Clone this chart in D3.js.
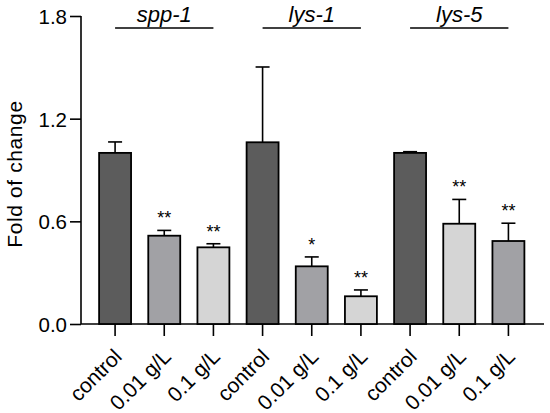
<!DOCTYPE html>
<html><head><meta charset="utf-8">
<script src="https://cdn.jsdelivr.net/npm/d3@7"></script>
<style>body{margin:0;background:#fff}svg{display:block}</style>
</head><body><svg id="c" width="550" height="413"></svg>
<script>
const genes = ["spp-1","lys-1","lys-5"];
const treatments = ["control","0.01 g/L","0.1 g/L"];
const means =  [1.000,0.516,0.448, 1.062,0.337,0.162, 1.000,0.586,0.485];
const errors = [0.064,0.031,0.021, 0.440,0.055,0.037, 0.007,0.142,0.104];
const sig = ["","**","**","","*","**","","**","**"];
const shade = ["dark","mid","light","dark","mid","light","dark","light","mid"];
const yTicks = [0,0.6,1.2,1.8];

const colors = {dark:"#5c5c5c", mid:"#a1a1a5", light:"#d5d5d5"};
const font = "'Liberation Sans', Arial, sans-serif";
const svg = d3.select("#c");
const x0 = 81, x1 = 544, yTop = 16, yBot = 324;

const data = means.map((m,i)=>({i, gene:genes[Math.floor(i/3)], label:treatments[i%3], m, e:errors[i], s:sig[i], c:colors[shade[i]]}));

const x = d3.scaleBand().domain(data.map(d=>d.i)).range([90.5,533]).paddingInner(0.35).paddingOuter(0.175);
const y = d3.scaleLinear().domain([0,1.8]).range([yBot,yTop]);

// y axis
const ya = svg.append("g").attr("transform",`translate(${x0},0)`)
  .call(d3.axisLeft(y).tickValues(yTicks).tickFormat(d3.format(".1f")).tickSize(11).tickPadding(3));
ya.select(".domain").attr("stroke","#000").attr("stroke-width",1.6).attr("d",`M0,${yTop}V${yBot}`);
ya.selectAll(".tick line").attr("stroke","#000").attr("stroke-width",1.6);
ya.selectAll(".tick text").attr("font-family",font).attr("font-size",20.5).attr("fill","#000").attr("dy","0.36em");

// x axis
const xa = svg.append("g").attr("transform",`translate(0,${yBot})`)
  .call(d3.axisBottom(x).tickSize(12).tickFormat(i=>data[i].label));
xa.select(".domain").attr("stroke","#000").attr("stroke-width",1.6).attr("d",`M${x0},0H${x1}`);
xa.selectAll(".tick line").attr("stroke","#000").attr("stroke-width",1.6);
xa.selectAll(".tick text").attr("font-family",font).attr("font-size",21).attr("fill","#000")
  .attr("text-anchor","end").attr("dy",null).attr("dominant-baseline","middle")
  .attr("transform","translate(4,30) rotate(-45)").attr("y",0).attr("x",0);

// bars
svg.append("g").selectAll("rect").data(data).join("rect")
  .attr("x",d=>x(d.i)).attr("width",x.bandwidth())
  .attr("y",d=>y(d.m)).attr("height",d=>y(0)-y(d.m))
  .attr("fill",d=>d.c).attr("stroke","#000").attr("stroke-width",1.8);

// error bars
const eg = svg.append("g").attr("stroke","#000").attr("stroke-width",1.6);
eg.selectAll("line.v").data(data).join("line").attr("class","v")
  .attr("x1",d=>x(d.i)+x.bandwidth()/2).attr("x2",d=>x(d.i)+x.bandwidth()/2)
  .attr("y1",d=>y(d.m)).attr("y2",d=>y(d.m+d.e));
eg.selectAll("line.h").data(data).join("line").attr("class","h")
  .attr("x1",d=>x(d.i)+x.bandwidth()/2-7).attr("x2",d=>x(d.i)+x.bandwidth()/2+7)
  .attr("y1",d=>y(d.m+d.e)).attr("y2",d=>y(d.m+d.e));

// significance
svg.append("g").selectAll("text").data(data.filter(d=>d.s)).join("text")
  .attr("x",d=>x(d.i)+x.bandwidth()/2).attr("y",d=>y(d.m+d.e)-6)
  .attr("text-anchor","middle").attr("font-family",font).attr("font-size",18)
  .text(d=>d.s);

// gene labels
genes.forEach((g,k)=>{
  const a = x(k*3)+x.bandwidth()/2, b = x(k*3+2)+x.bandwidth()/2;
  svg.append("line").attr("x1",a).attr("x2",b).attr("y1",28).attr("y2",28)
    .attr("stroke","#000").attr("stroke-width",1.6);
  svg.append("text").attr("x",(a+b)/2).attr("y",22).attr("text-anchor","middle")
    .attr("font-family",font).attr("font-size",22).attr("font-style","italic").text(g);
});

// y label
svg.append("text").attr("transform",`translate(22,174) rotate(-90)`)
  .attr("text-anchor","middle").attr("font-family",font).attr("font-size",21)
  .attr("letter-spacing","0.6").text("Fold of change");
</script></body></html>
